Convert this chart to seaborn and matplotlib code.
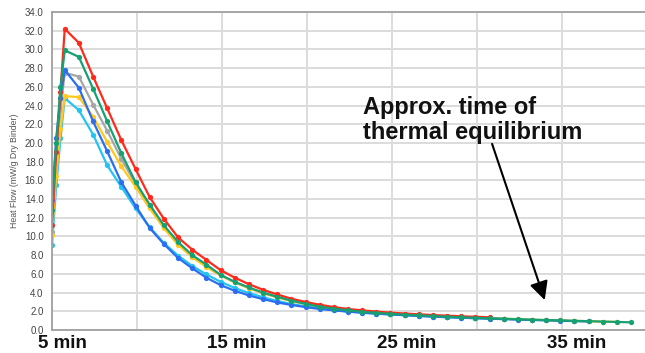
import matplotlib
matplotlib.use('Agg')
import matplotlib.pyplot as plt
import seaborn as sns

# time axis (minutes) - first three points are the ramp-up before the peak
times = [5.0, 5.25, 5.5, 5.75, 6.58, 7.42, 8.25, 9.08, 9.92, 10.75, 11.58, 12.42,
         13.25, 14.08, 14.92, 15.75, 16.58, 17.42, 18.25, 19.08, 19.92, 20.75,
         21.58, 22.42, 23.25, 24.08, 24.92, 25.75, 26.58, 27.42, 28.25, 29.08,
         29.92, 30.75, 31.58, 32.42, 33.25, 34.08, 34.92, 35.75, 36.58, 37.42,
         38.25, 39.08]

red = [11.2, 19.0, 25.5, 32.2, 30.7, 27.1, 23.7, 20.3, 17.2, 14.2, 11.9, 9.9,
       8.6, 7.5, 6.4, 5.6, 4.9, 4.3, 3.8, 3.35, 3.0, 2.7, 2.45, 2.25, 2.1,
       1.97, 1.86, 1.76, 1.68, 1.6, 1.53, 1.47, 1.41, 1.36]
green = [12.8, 20.0, 26.0, 29.9, 29.2, 25.8, 22.3, 18.9, 15.8, 13.4, 11.2, 9.4,
         8.0, 7.0, 5.9, 5.15, 4.55, 4.0, 3.55, 3.15, 2.8, 2.5, 2.28, 2.1, 1.95,
         1.83, 1.73, 1.64, 1.56, 1.49, 1.42, 1.36, 1.3, 1.25, 1.2, 1.15, 1.1,
         1.06, 1.02, 0.98, 0.94, 0.9, 0.86, 0.82]
gray = [10.5, 18.0, 23.5, 27.5, 27.1, 24.1, 21.3, 18.3, 15.6, 13.1, 11.0, 9.2,
        7.85, 6.8, 5.85, 5.1, 4.5, 3.95, 3.5, 3.1, 2.78, 2.5, 2.28, 2.1, 1.95,
        1.83, 1.73, 1.64, 1.56, 1.49, 1.43, 1.37, 1.31, 1.26, 1.21]
yellow = [10.2, 16.5, 21.5, 25.0, 24.9, 22.8, 20.1, 17.5, 15.3, 13.0, 10.9, 9.1,
          7.8, 6.75, 5.85, 5.1, 4.5, 3.95, 3.5, 3.12, 2.8, 2.52, 2.3, 2.12,
          1.97, 1.85, 1.74, 1.65, 1.57, 1.5, 1.43, 1.37, 1.31, 1.26, 1.21, 1.16,
          1.11, 1.06, 1.02, 0.98, 0.94, 0.9, 0.86]
blue = [13.9, 20.5, 24.8, 27.8, 25.9, 22.3, 19.1, 15.8, 13.3, 10.9, 9.2, 7.7,
        6.6, 5.6, 4.8, 4.2, 3.7, 3.3, 2.95, 2.68, 2.45, 2.25, 2.1, 1.96, 1.85,
        1.75, 1.66, 1.58, 1.5, 1.43, 1.37, 1.31, 1.26, 1.21, 1.16, 1.11, 1.07,
        1.03, 0.99, 0.95, 0.91]
cyan = [9.1, 15.5, 20.5, 24.8, 23.5, 20.9, 17.6, 15.3, 13.0, 11.0, 9.3, 7.95,
        6.85, 5.95, 5.15, 4.5, 3.95, 3.5, 3.1, 2.78, 2.52, 2.3, 2.13, 1.98,
        1.86, 1.76, 1.67, 1.59, 1.51, 1.44, 1.38, 1.32, 1.27, 1.22]

series = [(gray, '#a6a6a6'), (cyan, '#22c4f2'), (yellow, '#ffc81e'),
          (blue, '#2b6ff0'), (red, '#ff2a1c'), (green, '#17a072')]

min_labels = ['5 min', '15 min', '25 min', '35 min']
min_pos = [5, 15, 25, 35]

sns.set_style('white')
plt.rcParams['font.family'] = ['Liberation Sans', 'DejaVu Sans']

fig = plt.figure(figsize=(6.45, 3.53), dpi=100)
ax = fig.add_axes([52 / 645, 23 / 353, 1 - 52 / 645, 318 / 353])

for vals, col in series:
    sns.lineplot(x=times[:len(vals)], y=vals, color=col, lw=1.6, marker='o',
                 markersize=3.8, markeredgewidth=0, ax=ax)

ax.set_xlim(5, 39.9)
ax.set_ylim(0, 34)
ax.set_yticks([i * 2 for i in range(18)])
ax.set_yticklabels([f'{i * 2:.1f}' for i in range(18)], fontsize=7, color='#444444')
ax.set_xticks([5, 10, 15, 20, 25, 30, 35])
ax.set_xticklabels([])
ax.tick_params(axis='both', length=4, color='#999999', width=1, direction='out')
ax.tick_params(axis='y', pad=2)
ax.grid(True, color='#dcdcdc', lw=1.4)
ax.set_axisbelow(True)
for side in ['left', 'bottom', 'top']:
    ax.spines[side].set_color('#a0a0a0')
    ax.spines[side].set_linewidth(1.3)
ax.spines['right'].set_visible(False)

ax.set_ylabel('Heat Flow (mW/g Dry Binder)', fontsize=6.3, color='#555555', labelpad=4)

# big minute labels under the axis
for pos, lab in zip(min_pos, min_labels):
    ax.text(pos - 0.85, -0.015, lab, transform=ax.get_xaxis_transform(),
            ha='left', va='top', fontsize=13.5, fontweight='bold', color='#111111')

ax.text(23.3, 25.0, 'Approx. time of\nthermal equilibrium', fontsize=17,
        fontweight='bold', color='#111111', ha='left', va='top', linespacing=1.1)
ax.annotate('', xy=(34.0, 3.2), xytext=(30.9, 19.9),
            arrowprops=dict(arrowstyle='-|>', color='black', lw=1.5,
                            mutation_scale=28, shrinkA=0, shrinkB=0))

fig.savefig('out.png', dpi=100)
